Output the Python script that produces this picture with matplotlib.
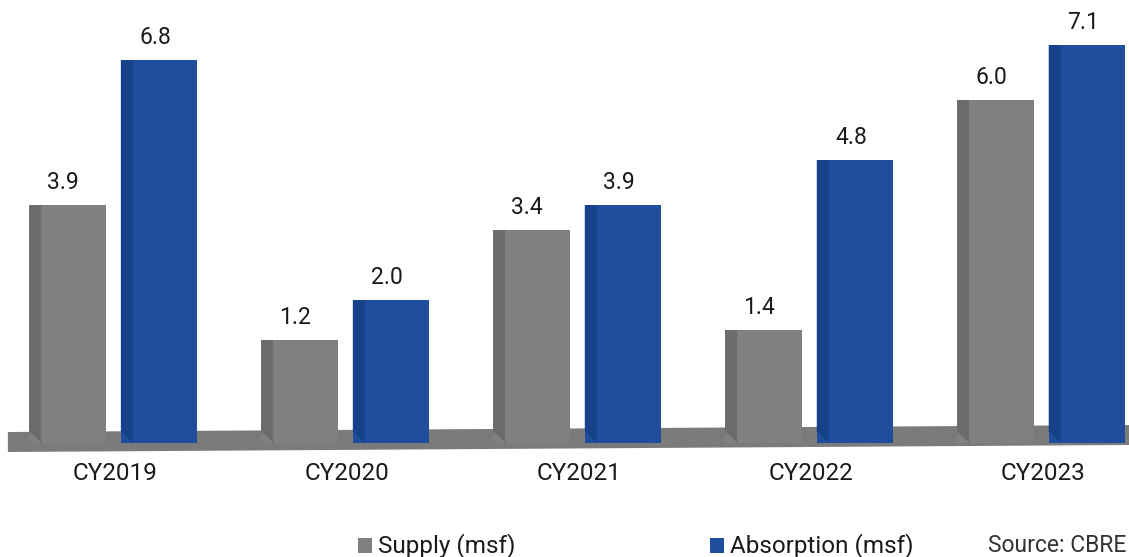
import matplotlib.pyplot as plt
from matplotlib.patches import Polygon, Rectangle

plt.rcParams['font.family'] = ['Roboto', 'DejaVu Sans']

years = ['CY2019', 'CY2020', 'CY2021', 'CY2022', 'CY2023']
supply = [3.9, 1.2, 3.4, 1.4, 6.0]
absorption = [6.8, 2.0, 3.9, 4.8, 7.1]

GREY, GREY_SIDE = '#808080', '#6c6c6c'
BLUE, BLUE_SIDE = '#1f4e9e', '#17428a'
TEXT = '#1a1a1a'

BASE = -0.85      # bars stand on the floor slab below zero
WIDTH = 0.33
SIDE = 0.052      # darker left face that fakes the 3D depth


def draw_bars(ax, xs, vals, face, shade):
    ax.bar(xs, [v - BASE for v in vals], width=WIDTH, bottom=BASE,
           color=face, zorder=3)
    for x, v in zip(xs, vals):
        x0 = x - WIDTH / 2
        ax.add_patch(Polygon([(x0, v), (x0 + SIDE, v), (x0 + SIDE, BASE),
                              (x0, BASE + 0.22)], closed=True,
                             facecolor=shade, edgecolor='none', zorder=4))
        ax.annotate(f'{v:.1f}', (x, v), xytext=(-3, 16),
                    textcoords='offset points', ha='center', va='center',
                    fontsize=16.5, color=TEXT)


def main():
    fig = plt.figure(figsize=(11.29, 5.57), dpi=100)
    ax = fig.add_axes([0, 0, 1, 1])
    ax.set_xlim(-0.496, 4.371)
    ax.set_ylim(-3.14, 8.0)
    ax.axis('off')

    # slightly tilted floor slab
    ax.add_patch(Polygon([(-0.462, -0.64), (4.371, -0.5), (4.371, -0.9),
                          (-0.462, -1.04)], closed=True,
                         facecolor='#7b7b7b', edgecolor='none', zorder=2))

    xs = list(range(len(years)))
    draw_bars(ax, [x - 0.205 for x in xs], supply, GREY, GREY_SIDE)
    draw_bars(ax, [x + 0.19 for x in xs], absorption, BLUE, BLUE_SIDE)

    for x, name in zip(xs, years):
        ax.text(x, -1.48, name, ha='center', va='center',
                fontsize=17.5, color=TEXT)

    # legend and source line along the bottom
    W, H = 1129, 557
    for px, color, label in [(358, GREY, 'Supply (msf)'),
                             (710, BLUE, 'Absorption (msf)')]:
        fig.patches.append(Rectangle((px / W, 1 - 553 / H), 14 / W, 15 / H,
                                     transform=fig.transFigure,
                                     facecolor=color, edgecolor='none'))
        fig.text((px + 20) / W, 1 - 546 / H, label, ha='left', va='center',
                 fontsize=17.5, color=TEXT)
    fig.text(1126 / W, 1 - 546 / H, 'Source: CBRE', ha='right', va='center',
             fontsize=16.5, color='#333333')

    fig.savefig('out.png', dpi=100)


if __name__ == '__main__':
    main()
